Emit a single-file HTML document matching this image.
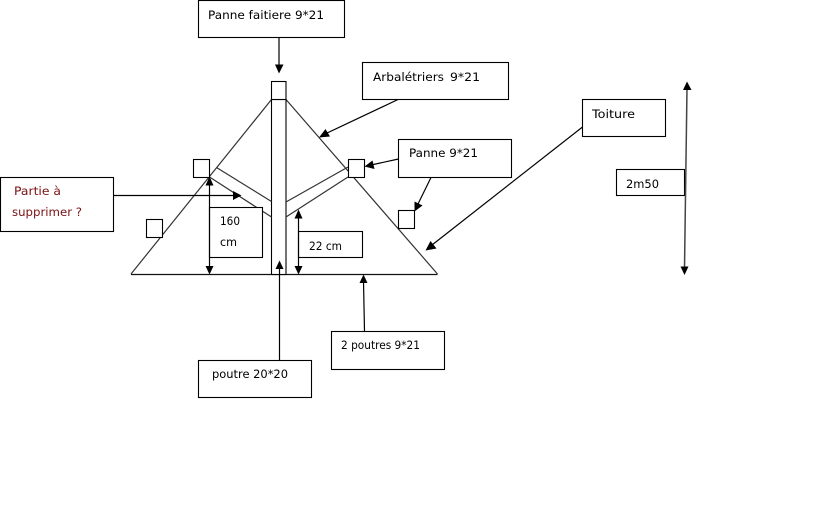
<!DOCTYPE html>
<html><head><meta charset="utf-8"><style>
html,body{margin:0;padding:0;background:#fff}
svg{display:block}
text{font-family:"DejaVu Sans","Liberation Sans",sans-serif;font-size:11.5px;fill:#000}
.l{stroke:#000;stroke-width:1.2;fill:none}
.b{stroke:#000;stroke-width:1.1;fill:#fff}
.t{stroke:#333;stroke-width:1.2;fill:none}
.a{fill:#000;stroke:none}
</style></head><body>
<svg width="840" height="525" viewBox="0 0 840 525" xmlns="http://www.w3.org/2000/svg">
<rect width="840" height="525" fill="#fff"/>
<!-- triangle -->
<path class="t" d="M131 274 L271.5 99.5 M286 99.5 L437.5 274"/>
<path d="M131 274.5 H437.5" stroke="#111" stroke-width="1.3"/>
<!-- post -->
<rect class="b" x="271.5" y="99.5" width="14.5" height="175"/>
<rect class="b" x="271.5" y="81.5" width="14.5" height="18"/>
<!-- struts -->
<path class="t" d="M216.5 167.5 L271.5 201.5 M209.5 177 L271.5 217 M286 202 L348 167 M286 217 L348 177"/>
<!-- small squares -->
<rect class="b" x="193.5" y="159.5" width="16" height="18"/>
<rect class="b" x="146.5" y="219.5" width="16" height="18"/>
<rect class="b" x="348.5" y="159.5" width="16" height="18"/>
<rect class="b" x="398.5" y="210.5" width="16" height="18"/>
<!-- boxes -->
<rect class="b" x="198.5" y="0.5" width="146" height="37"/>
<rect class="b" x="362.5" y="62.5" width="146" height="37"/>
<rect class="b" x="398.5" y="139.5" width="113" height="38"/>
<rect class="b" x="582.5" y="99.5" width="83" height="37"/>
<rect class="b" x="616.5" y="169.5" width="68" height="26"/>
<rect class="b" x="0.5" y="177.5" width="113" height="54"/>
<rect class="b" x="209.5" y="207.5" width="53" height="50"/>
<rect class="b" x="298.5" y="231.5" width="64" height="26"/>
<rect class="b" x="198.5" y="360.5" width="113" height="37"/>
<rect class="b" x="331.5" y="331.5" width="113" height="38"/>
<!-- connectors -->
<path class="l" d="M279 38 V66"/>
<path class="a" d="M275 64.5 H283.5 L279 73.5 Z"/>
<path class="l" d="M398 99.5 L325 134"/>
<path class="a" d="M319 137.5 L325.5 129 L330 136.5 Z"/>
<path class="l" d="M398.5 159 L371 165"/>
<path class="a" d="M364.5 166.5 L372.5 160.5 L374.5 169 Z"/>
<path class="l" d="M431 177.5 L418 204"/>
<path class="a" d="M414.5 211.5 L414.5 201.5 L422.5 205.5 Z"/>
<path class="l" d="M582.5 127 L432 245"/>
<path class="a" d="M425.5 250.5 L430.5 241 L436.5 248.5 Z"/>
<path class="l" d="M113.5 195.5 H236"/>
<path class="a" d="M241.5 195.5 L233 191 V200 Z"/>
<path class="l" d="M209.5 183 V268"/>
<path class="a" d="M209.5 176.5 L205.5 185.5 H213.5 Z"/>
<path class="a" d="M209.5 274.5 L205.5 266 H213.5 Z"/>
<path class="l" d="M298.5 216 V268"/>
<path class="a" d="M298.5 209.5 L294.5 218.5 H302.5 Z"/>
<path class="a" d="M298.5 274.5 L294.5 266 H302.5 Z"/>
<path class="l" d="M279.5 266 V360.5"/>
<path class="a" d="M279.5 260.5 L275.5 269 H283.5 Z"/>
<path class="l" d="M363.5 281 L364.5 331.5"/>
<path class="a" d="M363.5 274.5 L359.5 283 H367.5 Z"/>
<path d="M687 88 L684.5 268" stroke="#444" stroke-width="1.5" fill="none"/>
<path class="a" d="M687 81.5 L683 90 H691.5 Z"/>
<path class="a" d="M684.5 275 L680.5 266.5 H688.5 Z"/>
<!-- labels -->
<text x="208" y="19" textLength="116" lengthAdjust="spacingAndGlyphs">Panne faitiere 9*21</text>
<text x="373" y="81" textLength="71" lengthAdjust="spacingAndGlyphs">Arbalétriers</text>
<text x="450" y="81" textLength="30" lengthAdjust="spacingAndGlyphs">9*21</text>
<text x="409" y="157" textLength="69" lengthAdjust="spacingAndGlyphs">Panne 9*21</text>
<text x="592" y="118" textLength="43" lengthAdjust="spacingAndGlyphs">Toiture</text>
<text x="626" y="188" textLength="33" lengthAdjust="spacingAndGlyphs">2m50</text>
<text x="14" y="195" textLength="47" lengthAdjust="spacingAndGlyphs" style="fill:#7b1113">Partie à</text>
<text x="12" y="216" textLength="70" lengthAdjust="spacingAndGlyphs" style="fill:#7b1113">supprimer ?</text>
<text x="220" y="225" textLength="20" lengthAdjust="spacingAndGlyphs">160</text>
<text x="220" y="246" textLength="17" lengthAdjust="spacingAndGlyphs">cm</text>
<text x="309" y="250" textLength="33" lengthAdjust="spacingAndGlyphs">22 cm</text>
<text x="212" y="378" textLength="76" lengthAdjust="spacingAndGlyphs">poutre 20*20</text>
<text x="341" y="349" textLength="79" lengthAdjust="spacingAndGlyphs">2 poutres 9*21</text>
</svg>
</body></html>
